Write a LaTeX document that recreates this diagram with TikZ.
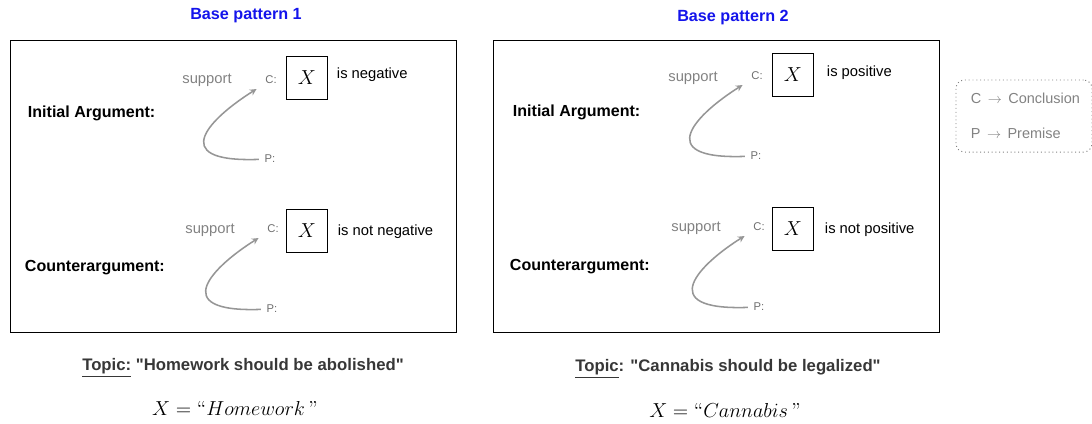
\documentclass[tikz,border=0pt]{standalone}
\usepackage{fontspec}
\setsansfont{Liberation Sans}
\usepackage{amsmath}
\usepackage{xcolor}
\usetikzlibrary{arrows, positioning}
\definecolor{titleblue}{RGB}{20,20,235}
\definecolor{supportgray}{RGB}{130,130,130}
\definecolor{arcgray}{RGB}{150,150,150}
\definecolor{labelgray}{RGB}{110,110,110}
\definecolor{topicgray}{RGB}{55,55,55}

\begin{document}
\begin{tikzpicture}[
				x=0.025cm, y=-0.025cm,
				panel/.style={rectangle, minimum width=11.15cm, minimum height=7.3cm, draw=black, line width=0.6pt},
				title/.style={font=\sffamily\bfseries\fontsize{11.5}{13}\selectfont, text=titleblue},
				argname/.style={anchor=west, font=\sffamily\bfseries\fontsize{11.4}{13}\selectfont},
				supp/.style={font=\sffamily\fontsize{10.5}{12}\selectfont, text=supportgray},
				tag/.style={font=\sffamily\fontsize{8}{9}\selectfont, text=labelgray, inner sep=1pt},
				xbox/.style={rectangle, draw=black, line width=0.6pt, minimum width=1.02cm, minimum height=1.06cm, font=\Large},
				claim/.style={anchor=west, font=\sffamily\fontsize{10.5}{12}\selectfont},
				topic/.style={font=\sffamily\bfseries\fontsize{11.9}{13}\selectfont, text=topicgray},
				formula/.style={font=\Large},
				legend/.style={rectangle, rounded corners=6pt, draw=supportgray, dotted, line width=0.7pt, minimum width=3.4cm, minimum height=1.8cm},
				legtext/.style={anchor=west, font=\sffamily\fontsize{10.3}{12}\selectfont, text=supportgray},
				arc/.style={->,>=stealth, line width=1.1pt, color=arcgray, shorten >=6pt, shorten <=3pt}
			]
			\useasboundingbox (0,0) rectangle (1092,423);

			% Base pattern 1
			\node (panel1) [panel] at (233,186) {};
			\node (title1) [title] at (246,16) {Base pattern 1};
			\node (init1) [argname] at (23,113) {Initial Argument:};
			\node (sup1) [supp] at (207,80) {support};
			\node (c1) [tag] at (271,80) {C:};
			\node (x1) [xbox] at (307,78) {$X$};
			\node (neg1) [claim] at (332,75) {is negative};
			\node (p1) [tag] at (270,159) {P:};
			\node (counter1) [argname] at (20,268) {Counterargument:};
			\node (sup1b) [supp] at (210,230) {support};
			\node (c1b) [tag] at (273,229) {C:};
			\node (x1b) [xbox] at (307,231) {$X$};
			\node (neg1b) [claim] at (333,232) {is not negative};
			\node (p1b) [tag] at (272,309) {P:};

			% Base pattern 2
			\node (panel2) [panel] at (716,186) {};
			\node (title2) [title] at (733,18) {Base pattern 2};
			\node (init2) [argname] at (508,112) {Initial Argument:};
			\node (sup2) [supp] at (693,78) {support};
			\node (c2) [tag] at (757,76) {C:};
			\node (x2) [xbox] at (793,75) {$X$};
			\node (pos2) [claim] at (822,73) {is positive};
			\node (p2) [tag] at (756,156) {P:};
			\node (counter2) [argname] at (505,267) {Counterargument:};
			\node (sup2b) [supp] at (696,228) {support};
			\node (c2b) [tag] at (759,227) {C:};
			\node (x2b) [xbox] at (793,229) {$X$};
			\node (pos2b) [claim] at (820,230) {is not positive};
			\node (p2b) [tag] at (759,307) {P:};

			% Legend
			\node (legend) [legend] at (1024,116) {};
			\node (legc) [legtext] at (966,98) {C\, $\rightarrow$\, Conclusion};
			\node (legp) [legtext] at (966,133) {P\, $\rightarrow$\, Premise};

			% Topics
			\node (topic1) [topic] at (243,368) {\underline{Topic:} \textquotedbl Homework should be abolished\textquotedbl};
			\node (form1) [formula] at (235,408) {$X = \text{``}Homework\,\text{''}$};
			\node (topic2) [topic] at (728,369) {\underline{Topic}: \textquotedbl Cannabis should be legalized\textquotedbl};
			\node (form2) [formula] at (725,410) {$X = \text{``}Cannabis\,\text{''}$};

			% Support arcs
			\draw [arc] (p1) to[out=182, in=212, out distance=2.5cm, in distance=1.5cm] (c1);
			\draw [arc] (p1b) to[out=182, in=212, out distance=2.5cm, in distance=1.5cm] (c1b);
			\draw [arc] (p2) to[out=182, in=212, out distance=2.5cm, in distance=1.5cm] (c2);
			\draw [arc] (p2b) to[out=182, in=212, out distance=2.5cm, in distance=1.5cm] (c2b);

		\end{tikzpicture}
\end{document}
